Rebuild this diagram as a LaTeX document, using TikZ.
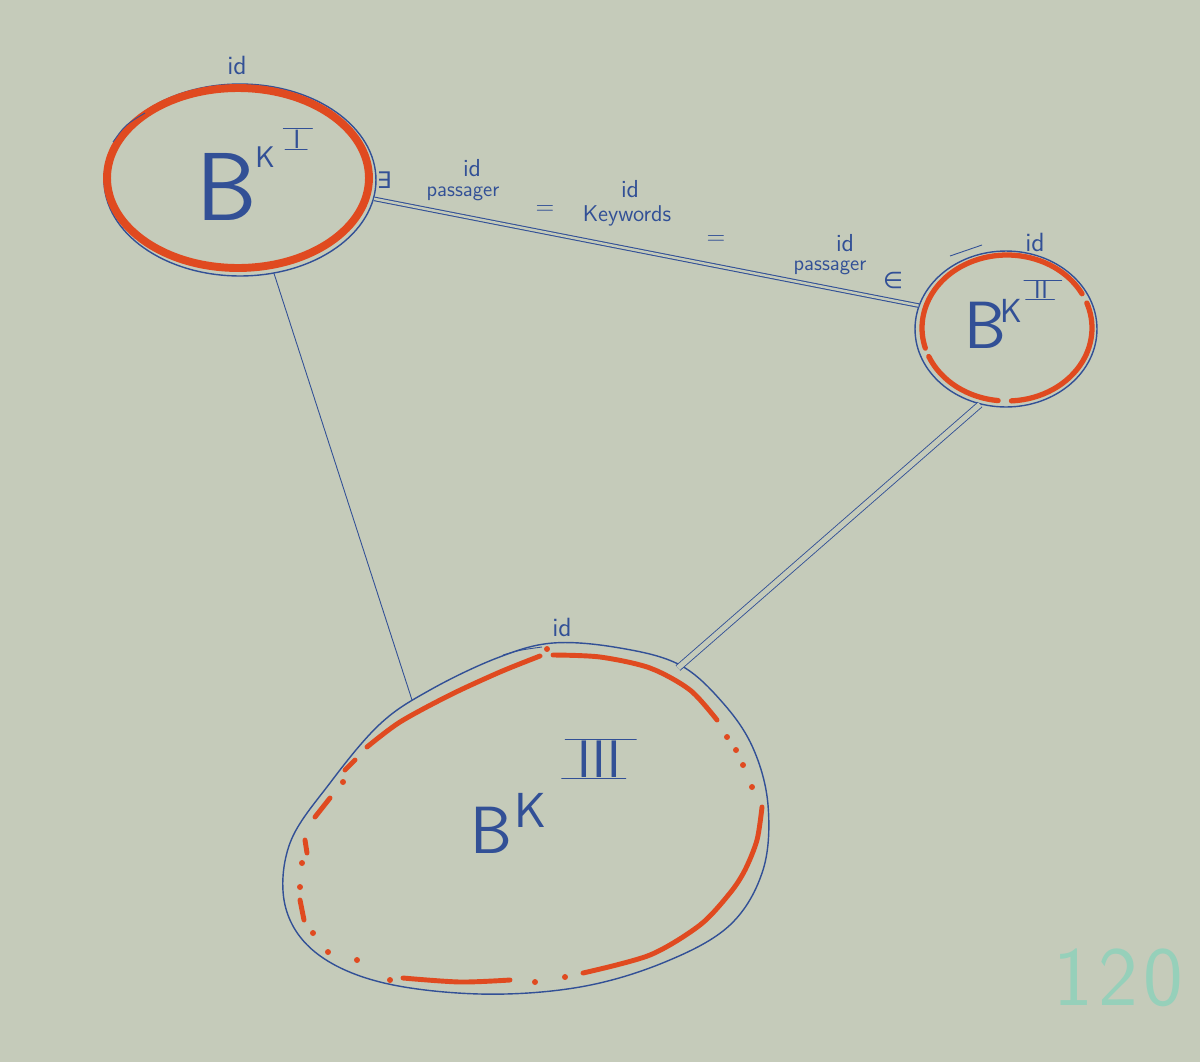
\documentclass[tikz,border=0pt]{standalone}
\usepackage{fontspec}
\newfontfamily\symfont{DejaVu Sans}
\usetikzlibrary{shapes.geometric}
\definecolor{paper}{RGB}{197,203,186}
\definecolor{ink}{RGB}{50,80,150}
\definecolor{redpen}{RGB}{224,74,32}
\definecolor{mint}{RGB}{150,208,186}
\tikzset{
  pen/.style={draw=ink, line width=0.8pt},
  thinpen/.style={draw=ink, line width=0.5pt},
  bkset/.style={ellipse, pen, inner sep=0pt},
  hand/.style={text=ink, inner sep=0.5pt, font=\sffamily},
  bar/.style={ink, line width=0.8pt, line cap=round},
  marker/.style={redpen, line cap=round, line join=round},
  dotmark/.style={fill=redpen},
  link/.style={draw=ink, line width=0.6pt, double=paper},
}
\begin{document}
\begin{tikzpicture}[x=0.02cm,y=-0.02cm]
\fill[paper] (0,0) rectangle (1200,1062);
\useasboundingbox (0,0) rectangle (1200,1062);

% ---------- BK I ----------
\node[bkset, minimum width=5.44cm, minimum height=3.84cm] (b1) at (240,180) {};
\draw[marker, line width=4.5pt] (238,178) ellipse [x radius=2.62cm, y radius=1.8cm];
\draw[thinpen] (113,142) .. controls (125,125) .. (145,113);
\node[hand, font=\sffamily\fontsize{55}{55}\selectfont] (b1B) at (227,187) {B};
\node[hand, font=\sffamily\fontsize{17}{17}\selectfont] (b1K) at (265,157) {K};
\node[hand, font=\sffamily\fontsize{15}{15}\selectfont] (b1N) at (297,139) {I};
\draw[bar] ([xshift=-5pt]b1N.north west) -- ([xshift=6pt]b1N.north east);
\draw[bar] ([xshift=-4pt]b1N.south west) -- ([xshift=3pt]b1N.south east);
\node[hand, font=\sffamily\fontsize{15}{15}\selectfont] (b1id) at (237,65) {id};

% ---------- BK II ----------
\node[bkset, minimum width=3.64cm, minimum height=3.12cm] (b2) at (1006,329) {};
\draw[marker, line width=3pt] ([shift={(1007,328)}]28:1.7cm and 1.46cm)
  arc[start angle=28, end angle=196, x radius=1.7cm, y radius=1.46cm];
\draw[marker, line width=3pt] ([shift={(1007,328)}]203:1.7cm and 1.46cm)
  arc[start angle=203, end angle=264, x radius=1.7cm, y radius=1.46cm];
\draw[marker, line width=3pt] ([shift={(1007,328)}]273:1.7cm and 1.46cm)
  arc[start angle=273, end angle=380, x radius=1.7cm, y radius=1.46cm];
\draw[thinpen] (950,256) -- (982,245);
\node[hand, font=\sffamily\fontsize{38}{38}\selectfont] (b2B) at (985,325) {B};
\node[hand, font=\sffamily\fontsize{19}{19}\selectfont] (b2K) at (1011,311) {K};
\node[hand, font=\sffamily\fontsize{14}{14}\selectfont] (b2N) at (1041,290) {II};
\draw[bar] ([xshift=-5pt]b2N.north west) -- ([xshift=7pt]b2N.north east);
\draw[bar] ([xshift=-4pt]b2N.south west) -- ([xshift=3pt]b2N.south east);
\node[hand, font=\sffamily\fontsize{15}{15}\selectfont] (b2id) at (1035,242) {id};

% ---------- BK III (irregular outline) ----------
\draw[pen] plot[smooth cycle, tension=0.6] coordinates {
  (553,643) (620,648) (680,665) (723,703) (753,748) (768,805) (763,870)
  (730,925) (665,962) (580,987) (480,994) (380,982) (315,952) (285,905)
  (290,843) (330,783) (380,724) (430,690) (497,658)};
\draw[thinpen] (503,655) .. controls (520,650) .. (542,647);
\coordinate (b3a) at (412,700);
\coordinate (b3b) at (678,668);
% red marker pieces
\begin{scope}[marker, line width=2.8pt]
\draw plot[smooth] coordinates {(367,747) (400,722) (450,695) (500,672) (540,656)};
\draw plot[smooth] coordinates {(553,655) (600,657) (650,668) (690,690) (717,720)};
\draw plot[smooth] coordinates {(762,807) (757,840) (745,870) (730,893) (700,925) (650,955) (583,973)};
\draw plot[smooth] coordinates {(510,980) (460,982) (403,978)};
\draw (300,900) -- (304,920);
\draw (305,840) -- (307,853);
\draw (315,817) -- (330,798);
\draw (345,770) -- (355,760);
\end{scope}
\foreach \p in {(547,649),(727,737),(736,750),(743,765),(752,787),(565,977),(535,982),
  (390,980),(357,960),(328,952),(313,933),(300,887),(302,863),(343,782)}
  \fill[dotmark] \p circle[radius=1.7pt];
\node[hand, font=\sffamily\fontsize{38}{38}\selectfont] (b3B) at (491,830) {B};
\node[hand, font=\sffamily\fontsize{28}{28}\selectfont] (b3K) at (531,810) {K};
\node[hand, font=\sffamily\fontsize{30}{30}\selectfont] (b3N) at (599,759) {III};
\draw[bar] ([xshift=-6pt]b3N.north west) -- ([xshift=8pt]b3N.north east);
\draw[bar] ([xshift=-8pt]b3N.south west) -- ([xshift=2pt]b3N.south east);
\node[hand, font=\sffamily\fontsize{15}{15}\selectfont] (b3id) at (562,627) {id};

% ---------- connectors ----------
\draw[link, double distance=1.4pt] (b1.-8) -- (b2.165);
\draw[thinpen] (b1.-70) -- (b3a);
\draw[link, line width=0.5pt, double distance=3pt] (b2.-109) -- (b3b);

% ---------- labels on the I--II connector ----------
\node[hand, font=\symfont\fontsize{13}{13}\selectfont] (lex) at (384,180) {∃};
\node[hand, font=\sffamily\fontsize{14}{14}\selectfont] (lid1) at (472,168) {id};
\node[hand, font=\sffamily\fontsize{12}{12}\selectfont] (lpa1) at (463,194) {passager};
\node[hand, font=\sffamily\fontsize{14}{14}\selectfont] (leq1) at (545,210) {=};
\node[hand, font=\sffamily\fontsize{14}{14}\selectfont] (lid2) at (630,189) {id};
\node[hand, font=\sffamily\fontsize{13}{13}\selectfont] (lkw) at (627,216) {Keywords};
\node[hand, font=\sffamily\fontsize{14}{14}\selectfont] (leq2) at (716,240) {=};
\node[hand, font=\sffamily\fontsize{14}{14}\selectfont] (lid3) at (845,243) {id};
\node[hand, font=\sffamily\fontsize{12}{12}\selectfont] (lpa2) at (830,268) {passager};
\node[hand, font=\symfont\fontsize{13}{13}\selectfont] (lin) at (893,280) {∈};

% ---------- page number ----------
\node[text=mint, inner sep=0pt, font=\sffamily\fontsize{48}{48}\selectfont] (pg) at (1118,978) {1\hspace{3pt}2\hspace{3pt}0};
\end{tikzpicture}
\end{document}
